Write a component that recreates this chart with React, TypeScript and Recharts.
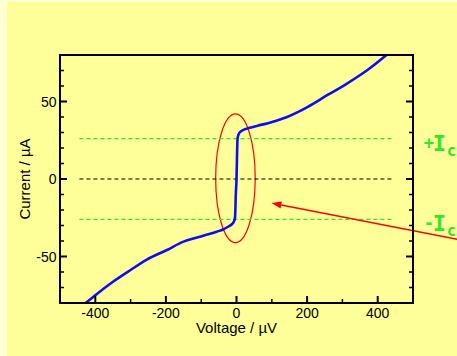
import { ComposedChart, Line, XAxis, YAxis, ReferenceLine, ReferenceArea } from "recharts";

// I-V sweep (µV, µA)
const voltage = [-427, -399, -348, -300, -254, -197, -150, -125, -103, -80, -56, -38, -24, -13, -8, -4, -2, 0, 1, 2, 3, 6, 14, 37, 60, 89, 115, 145, 172, 202, 258, 314, 371, 425];
const current = [-80, -74.8, -66, -58.7, -52, -45.8, -40.4, -38.6, -37.2, -35.7, -34, -32.6, -30.8, -29.2, -27.8, -24.5, -10, 0, 10, 20, 26, 28.8, 31, 33, 34.4, 36, 37.8, 40.2, 43, 46.6, 54.2, 61.7, 70.3, 80];

const xMajor = [-400, -200, 0, 200, 400];
const xTicks = [-400, -300, -200, -100, 0, 100, 200, 300, 400];
const yMajor = [-50, 0, 50];
const yTicks = [-70, -60, -50, -40, -30, -20, -10, 0, 10, 20, 30, 40, 50, 60, 70];

const icLevels = [26, -26];
const guideSpan = [-445, 440];
const circledV = [-59, 53];
const circledI = [-41, 42];
const arrowTail = { v: 660, i: -40.5 };
const arrowTip = { v: 99, i: -15.5 };

const curve = voltage.map((v, k) => ({ v, i: current[k] }));

const GREEN = "#2ee62e";
const BLUE = "#0d0df0";
const frame = { stroke: "#000", strokeWidth: 2, strokeLinecap: "square" as const };

const bottomTick = (p: any) => {
  const major = xMajor.includes(p.payload.value);
  return (
    <g>
      <line x1={p.x} y1={p.y} x2={p.x} y2={p.y - (major ? 7 : 4)} stroke="#000" strokeWidth={major ? 2 : 1.5} />
      {major && (
        <text x={p.x} y={p.y + 14.5} textAnchor="middle" fontSize={14} fill="#000">
          {p.payload.value}
        </text>
      )}
    </g>
  );
};

const topTick = (p: any) => {
  const major = xMajor.includes(p.payload.value);
  return <line x1={p.x} y1={p.y} x2={p.x} y2={p.y + (major ? 7 : 4)} stroke="#000" strokeWidth={major ? 2 : 1.5} />;
};

const leftTick = (p: any) => {
  const major = yMajor.includes(p.payload.value);
  return (
    <g>
      <line x1={p.x} y1={p.y} x2={p.x + (major ? 7 : 4)} y2={p.y} stroke="#000" strokeWidth={major ? 2 : 1.5} />
      {major && (
        <text x={p.x - 3.5} y={p.y + 5} textAnchor="end" fontSize={14} fill="#000">
          {p.payload.value}
        </text>
      )}
    </g>
  );
};

const rightTick = (p: any) => {
  const major = yMajor.includes(p.payload.value);
  return <line x1={p.x} y1={p.y} x2={p.x - (major ? 7 : 4)} y2={p.y} stroke="#000" strokeWidth={major ? 2 : 1.5} />;
};

const icLabel = (sign: string) => (props: any) => {
  const vb = props.viewBox;
  const x = vb.x + vb.width + 32;
  const y = vb.y;
  return (
    <text fill={GREEN} fontWeight="bold" fontFamily="DejaVu Sans Mono">
      <tspan x={x} y={y + 10} fontSize={17}>{sign}</tspan>
      <tspan x={x + 9} y={y + 12} fontSize={22}>I</tspan>
      <tspan x={x + 23} y={y + 17} fontSize={16}>c</tspan>
    </text>
  );
};

const ellipseShape = (p: any) => (
  <ellipse
    cx={p.x + p.width / 2}
    cy={p.y + p.height / 2}
    rx={p.width / 2}
    ry={p.height / 2}
    fill="none"
    stroke="#ff0000"
    strokeWidth={1.2}
  />
);

const arrowShape = (p: any) => {
  const { x1, y1, x2, y2 } = p;
  const a = Math.atan2(y2 - y1, x2 - x1);
  const len = 10;
  const half = 3.5;
  const bx = x2 - len * Math.cos(a);
  const by = y2 - len * Math.sin(a);
  const pts = [
    [x2, y2],
    [bx + half * Math.sin(a), by - half * Math.cos(a)],
    [bx - half * Math.sin(a), by + half * Math.cos(a)],
  ]
    .map((q) => q.join(","))
    .join(" ");
  return (
    <g>
      <line x1={x1} y1={y1} x2={bx} y2={by} stroke="#ff0000" strokeWidth={1.5} />
      <polygon points={pts} fill="#ff0000" />
    </g>
  );
};

export default function App() {
  return (
    <div
      style={{
        position: "fixed",
        left: 0,
        top: 0,
        width: 457,
        height: 356,
        background: "#ffffd6",
        fontFamily: "'Liberation Sans', Arial, sans-serif",
      }}
    >
      <div style={{ position: "absolute", left: 7, top: 2, right: 0, bottom: 0, background: "#ffff99" }} />
      <div style={{ position: "absolute", left: 0, top: 0 }}>
        <ComposedChart width={457} height={356} data={curve} margin={{ top: 54, right: 43, bottom: 0, left: 0 }}>
          <XAxis
            type="number"
            dataKey="v"
            domain={[-500, 500]}
            allowDataOverflow
            ticks={xTicks}
            interval={0}
            height={53}
            tickSize={0}
            tickMargin={0}
            tickLine={false}
            axisLine={frame}
            tick={bottomTick}
            label={{
              content: (lp: any) => (
                <text
                  x={lp.viewBox.x + lp.viewBox.width / 2}
                  y={lp.viewBox.y + 30}
                  textAnchor="middle"
                  fontSize={15}
                  fill="#000"
                >
                  Voltage / µV
                </text>
              ),
            }}
          />
          <XAxis
            xAxisId="top"
            orientation="top"
            type="number"
            domain={[-500, 500]}
            allowDataOverflow
            ticks={xTicks}
            interval={0}
            height={1}
            tickSize={0}
            tickMargin={0}
            tickLine={false}
            axisLine={frame}
            tick={topTick}
          />
          <YAxis
            type="number"
            domain={[-80, 80]}
            allowDataOverflow
            ticks={yTicks}
            interval={0}
            width={60}
            tickSize={0}
            tickMargin={0}
            tickLine={false}
            axisLine={frame}
            tick={leftTick}
            label={{
              content: (lp: any) => {
                const cx = lp.viewBox.x + 30;
                const cy = lp.viewBox.y + lp.viewBox.height / 2;
                return (
                  <text x={cx} y={cy} transform={`rotate(-90 ${cx} ${cy})`} textAnchor="middle" fontSize={15} fill="#000">
                    Current / µA
                  </text>
                );
              },
            }}
          />
          <YAxis
            yAxisId="right"
            orientation="right"
            type="number"
            domain={[-80, 80]}
            allowDataOverflow
            ticks={yTicks}
            interval={0}
            width={1}
            tickSize={0}
            tickMargin={0}
            tickLine={false}
            axisLine={frame}
            tick={rightTick}
          />
          {icLevels.map((lvl) => (
            <ReferenceLine
              key={lvl}
              segment={[
                { x: guideSpan[0], y: lvl },
                { x: guideSpan[1], y: lvl },
              ]}
              stroke={GREEN}
              strokeWidth={1.3}
              strokeDasharray="4 3"
              ifOverflow="visible"
              label={{ content: icLabel(lvl > 0 ? "+" : "-") }}
            />
          ))}
          <ReferenceLine
            segment={[
              { x: guideSpan[0], y: 0 },
              { x: guideSpan[1], y: 0 },
            ]}
            stroke="#000"
            strokeWidth={1.2}
            strokeDasharray="4 3"
            ifOverflow="visible"
          />
          <Line
            type="monotone"
            dataKey="i"
            stroke={BLUE}
            strokeWidth={2.6}
            dot={false}
            isAnimationActive={false}
          />
          <ReferenceArea
            x1={circledV[0]}
            x2={circledV[1]}
            y1={circledI[0]}
            y2={circledI[1]}
            ifOverflow="visible"
            shape={ellipseShape}
          />
          <ReferenceLine
            segment={[
              { x: arrowTail.v, y: arrowTail.i },
              { x: arrowTip.v, y: arrowTip.i },
            ]}
            ifOverflow="visible"
            shape={arrowShape}
          />
        </ComposedChart>
      </div>
    </div>
  );
}
